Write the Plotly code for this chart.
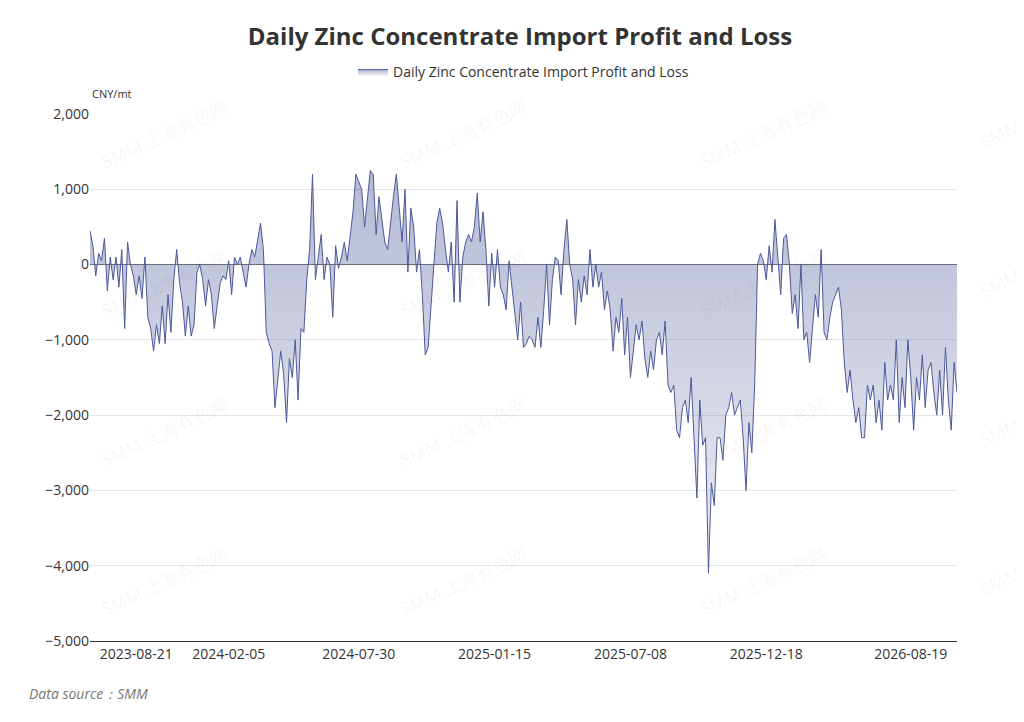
import plotly.graph_objects as go

# daily import profit/loss, CNY/mt
pnl_2023_24 = [450, 250, -150, 150, 50, 350, -350, 100, -200, 100, -300, 200, -850, 300, 0, -150,
               -400, -150, -450, 100, -700, -850, -1150, -800, -1050, -550, -1050, -400, -900, -200,
               200, -250, -500, -950, -550, -950, -800, -100, 0, -200, -550, -200, -400, -850, -550,
               -250, -150, -200, 50, -400, 100, 0, 100, -100, -300, 0, 200, 100, 300, 550, 200, -900,
               -1050, -1150, -1900, -1500, -1150, -1450, -2100, -1250, -1500, -1000, -1800, -850, -900,
               -200, 200]
pnl_2024_25 = [1200, -200, 100, 400, -200, 100, 0, -700, 250, -50, 100, 300, 50, 400, 700, 1200, 1100,
               1000, 500, 900, 1250, 1200, 400, 900, 600, 300, 200, 600, 900, 1200, 800, 300, 1000,
               -100, 750, 500, -100, 200, -400, -1200, -1100, -500, 0, 550, 750, 550, 200, -100, 300,
               -500, 850, -500, 100, 300, 400, 300, 500, 950, 300, 700, 200, -550, 150, -300, 200,
               -300, -400, -600]
pnl_2025 = [50, -300, -700, -1000, -500, -1100, -1050, -950, -1000, -1100, -700, -1100, -600, 0, -800,
            -200, 100, 50, -400, 200, 600, 0, -200, -800, -200, -500, -150, -400, 200, -300, 0, -300,
            -100, -600, -350, -600, -1150, -700, -900, -450, -1200, -700, -1500, -1100, -800, -1000,
            -750, -1250, -1500, -1150, -1400, -1000, -900, -1200, -750, -1600, -1700, -1600, -2200,
            -2300, -1900, -1800, -2100, -1500, -2300, -3100, -1800, -2400, -2300, -4100, -2900, -3200,
            -2300, -2300, -2600, -2000, -1900, -1700, -2000, -1900, -1800, -2300, -3000]
pnl_2026 = [-2100, -2500, -1600, 0, 150, 50, -200, 250, -100, 600, 100, -400, 350, 400, 0, -650, -400,
            -850, 0, -1000, -900, -1300, -850, -400, -700, 200, -900, -1000, -700, -500, -400, -300,
            -600, -1300, -1700, -1400, -1800, -2100, -1900, -2300, -2300, -1600, -1800, -1600, -2100,
            -1800, -2200, -1300, -1800, -1600, -1800, -1000, -2100, -1500, -1900, -1000, -1500, -2200,
            -1500, -1800, -1200, -1900, -1400, -1300, -1700, -2000, -1400, -2000, -1100, -1800, -2200,
            -1300, -1700]
values = pnl_2023_24 + pnl_2024_25 + pnl_2025 + pnl_2026

tick_labels = ["2023-08-21", "2024-02-05", "2024-07-30", "2025-01-15",
               "2025-07-08", "2025-12-18", "2026-08-19"]
tick_frac = [0.052, 0.161, 0.311, 0.467, 0.623, 0.779, 0.948]

n = len(values)
idx = list(range(n))
tickvals = [round(f * (n - 1)) for f in tick_frac]

line_col = "#4d5899"

fig = go.Figure()
fig.add_trace(go.Scatter(
    x=idx, y=values, mode="lines", name="Daily Zinc Concentrate Import Profit and Loss",
    line=dict(color=line_col, width=1), fill="tozeroy",
    fillgradient=dict(type="vertical",
                      colorscale=[[0, "rgba(77,88,153,0.10)"], [1, "rgba(77,88,153,0.42)"]]),
))

# watermark, page pixel centres converted to plot-domain fractions
plot_l, plot_w, plot_b, plot_h = 90, 867, 641, 527
for wy in [134, 283, 432, 581]:
    for wx, txt in [(164, "SMM 上海有色网"), (463, "SMM 上海有色网"), (763, "SMM 上海有色网"), (1000, "SMM")]:
        fig.add_annotation(text=txt, x=(wx - plot_l) / plot_w, y=(plot_b - wy) / plot_h,
                           xref="paper", yref="paper", xanchor="center", yanchor="middle",
                           showarrow=False, textangle=-25,
                           font=dict(size=18, color="rgba(0,0,0,0.055)"))

fig.add_annotation(text="CNY/mt", x=0.0, y=1.038, xref="paper", yref="paper", xanchor="left",
                   yanchor="middle", showarrow=False, font=dict(size=11, color="#333"))
fig.add_annotation(text="Data source：SMM", x=-0.073, y=-0.1, xref="paper", yref="paper",
                   xanchor="left", yanchor="middle", showarrow=False,
                   font=dict(size=14, color="#777", family="Open Sans, Arial", style="italic"))

fig.update_layout(
    width=1024, height=722,
    margin=dict(l=82, r=75, t=106, b=89),
    paper_bgcolor="white", plot_bgcolor="white",
    font=dict(family="Open Sans, Noto Sans, Arial", color="#333"),
    title=dict(text="<b>Daily Zinc Concentrate Import Profit and Loss</b>", x=0.5, y=0.96,
               xanchor="center", yanchor="middle", font=dict(size=24, color="#333")),
    legend=dict(orientation="h", x=0.5, xanchor="center", y=1.11, yanchor="top",
                font=dict(size=14, color="#333")),
    showlegend=True,
    xaxis=dict(range=[0, n - 1], tickvals=tickvals, ticktext=tick_labels, showgrid=False,
               showline=True, linecolor="#333", ticks="", tickfont=dict(size=14, color="#333"),
               zeroline=False),
    yaxis=dict(range=[-5000, 2000], dtick=1000, tickformat=",", gridcolor="#e6e6e6",
               zeroline=True, zerolinecolor="#6e6e6e", zerolinewidth=1,
               tickfont=dict(size=14, color="#333")),
)

fig.write_html("out.html")
